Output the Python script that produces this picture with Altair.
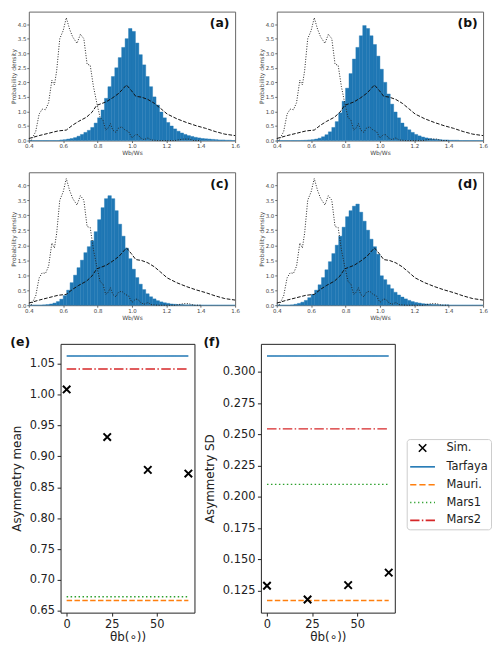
import altair as alt
import pandas as pd

# ---------------- data ----------------
bin_start = 0.40
bin_width = 0.02

hist_a = [0, 0, 0, 0, 0, 0, 0, 0, 0,
          0.02, 0.03, 0.05, 0.07, 0.10, 0.15, 0.21, 0.28, 0.35, 0.45,
          0.60, 0.78, 1.05, 1.45, 1.85, 2.20, 2.50, 2.85, 3.20, 3.50,
          3.85, 3.75, 3.35, 2.95, 2.60, 2.20, 1.85, 1.50, 1.22, 0.98,
          0.78, 0.62, 0.50, 0.40, 0.32, 0.26, 0.21, 0.17, 0.14, 0.11,
          0.09, 0.07, 0.06, 0.05, 0.04, 0.03, 0.02, 0.02, 0.01, 0.01, 0.0]
hist_b = [0, 0, 0, 0, 0, 0, 0,
          0.005, 0.01, 0.02, 0.03, 0.05, 0.08, 0.13, 0.20, 0.30, 0.45,
          0.65, 0.95, 1.35, 1.80, 2.30, 2.80, 3.20, 3.60, 3.95, 3.85,
          3.60, 3.30, 2.90, 2.45, 2.00, 1.60, 1.25, 0.98, 0.78, 0.60,
          0.47, 0.37, 0.28, 0.21, 0.16, 0.12, 0.09, 0.07, 0.05, 0.04,
          0.03, 0.02, 0.02, 0.01, 0.01, 0.01,
          0, 0, 0, 0, 0, 0, 0]
hist_c = [0, 0, 0, 0,
          0.01, 0.02, 0.04, 0.07, 0.12, 0.20, 0.32, 0.50, 0.75, 1.00,
          1.25, 1.50, 1.75, 1.95, 2.15, 2.45, 2.85, 3.25, 3.55, 3.65,
          3.55, 3.15, 2.70, 2.30, 1.90, 1.55, 1.20, 0.92, 0.70, 0.52,
          0.38, 0.28, 0.21, 0.15, 0.11, 0.08, 0.06, 0.04, 0.03, 0.02,
          0.02, 0.01, 0.01, 0.01,
          0, 0, 0, 0, 0, 0, 0, 0, 0, 0, 0, 0]
hist_d = [0, 0, 0, 0,
          0.01, 0.03, 0.06, 0.10, 0.16, 0.25, 0.36, 0.50, 0.68, 0.92,
          1.18, 1.45, 1.72, 2.00, 2.30, 2.60, 2.95, 3.15, 3.30, 3.37,
          3.10, 2.80, 2.50, 2.20, 1.95, 1.70, 0.98, 0.85, 0.68, 0.55,
          0.43, 0.34, 0.27, 0.21, 0.16, 0.12, 0.09, 0.07, 0.05, 0.04,
          0.03, 0.02, 0.02, 0.01, 0.01, 0.01,
          0, 0, 0, 0, 0, 0, 0, 0, 0, 0]

dot_x = [0.413, 0.44, 0.46, 0.478, 0.497, 0.515, 0.534, 0.549, 0.562, 0.58,
         0.60, 0.618, 0.637, 0.655, 0.68, 0.70, 0.72, 0.739, 0.757, 0.776,
         0.795, 0.814, 0.832, 0.847, 0.86, 0.875, 0.888, 0.907, 0.92, 0.94,
         0.96, 0.98, 1.0, 1.02, 1.034, 1.05, 1.07, 1.093, 1.11, 1.15,
         1.2, 1.25, 1.3, 1.33, 1.36, 1.4]
dot_y = [0.0, 0.31, 0.91, 1.08, 1.06, 1.30, 2.07, 1.91, 2.40, 3.50,
         3.78, 4.22, 3.83, 3.56, 3.34, 3.65, 3.50, 2.62, 2.59, 1.85,
         1.30, 0.80, 0.69, 0.36, 0.42, 0.58, 0.36, 0.28, 0.42, 0.47,
         0.36, 0.31, 0.09, 0.20, 0.20, 0.09, 0.03, 0.09, 0.02, 0.0,
         0.0, 0.0, 0.05, 0.05, 0.0, 0.0]

dash_x = [0.40, 0.46, 0.515, 0.57, 0.618, 0.655, 0.69, 0.735, 0.767, 0.795,
          0.823, 0.85, 0.888, 0.925, 0.968, 0.996, 1.022, 1.056, 1.093, 1.13,
          1.167, 1.205, 1.26, 1.317, 1.373, 1.428, 1.484, 1.54, 1.60]
dash_y = [0.07, 0.17, 0.25, 0.33, 0.36, 0.53, 0.66, 0.80, 0.97, 1.21,
          1.27, 1.33, 1.47, 1.63, 1.91, 1.72, 1.52, 1.49, 1.41, 1.28,
          1.10, 0.91, 0.75, 0.62, 0.51, 0.42, 0.31, 0.22, 0.17]

panel_labels = ["(a)", "(b)", "(c)", "(d)"]
label_pos = (1.51, 4.03)

theta = [0, 22.5, 45, 67.5]
sim_mean = [1.008, 0.931, 0.878, 0.872]
sim_sd = [0.129, 0.118, 0.1295, 0.1395]

series_names = ["Sim.", "Tarfaya", "Mauri.", "Mars1", "Mars2"]
ref_names = ["Tarfaya", "Mauri.", "Mars1", "Mars2"]
ref_mean = [1.062, 0.667, 0.673, 1.041]
ref_sd = [0.3127, 0.1173, 0.2101, 0.2545]

# ---------------- styles ----------------
FONT = "DejaVu Sans"
series_colors = ["#000000", "#1f77b4", "#ff7f0e", "#2ca02c", "#d62728"]
ref_colors = ["#1f77b4", "#ff7f0e", "#2ca02c", "#d62728"]
ref_dashes = [[1, 0], [5.5, 2.4], [1.5, 2.5], [9.6, 2.4, 1.5, 2.4]]
# symbol paths (drawn at size 100 -> 1 unit = 5 px)
cross = "M-0.75,-0.75L0.75,0.75M-0.75,0.75L0.75,-0.75"
legend_shapes = [
    cross,
    "M-2.5,0L2.5,0",
    "M-2.5,0L-1.25,0M-0.65,0L0.6,0M1.2,0L2.45,0",
    "M-2.5,0L-2.25,0M-1.7,0L-1.45,0M-0.9,0L-0.65,0M-0.1,0L0.15,0M0.7,0L0.95,0M1.5,0L1.75,0M2.3,0L2.5,0",
    "M-2.5,0L-0.62,0M-0.15,0L0.15,0M0.62,0L2.5,0",
]

HW = 208


def hist_panel(vals, label, h):
    edges = [round(bin_start + bin_width * i, 4) for i in range(len(vals))]
    df = pd.DataFrame({"x0": edges, "x1": [round(e + bin_width, 4) for e in edges], "v": vals})
    xs = alt.Scale(domain=[0.4, 1.6], nice=False, zero=False)
    ys = alt.Scale(domain=[0, 4.43], nice=False)
    ax_common = dict(labelFontSize=5.5, titleFontSize=6, tickSize=2, labelPadding=1,
                     titlePadding=1, grid=False, domain=False, labelColor="#444",
                     titleColor="#444", tickColor="#666", labelFont=FONT, titleFont=FONT,
                     titleFontWeight="normal", labelFlush=False, labelOverlap=False)
    xax = alt.Axis(values=[0.4, 0.6, 0.8, 1.0, 1.2, 1.4, 1.6], format=".1f", **ax_common)
    yax = alt.Axis(values=[0, 0.5, 1.0, 1.5, 2.0, 2.5, 3.0, 3.5, 4.0], format=".1f", **ax_common)
    X = lambda fld: alt.X(fld, scale=xs, axis=xax, title="Wb/Ws")
    Y = lambda fld: alt.Y(fld, scale=ys, axis=yax, title="Probability density")
    bars = alt.Chart(df).mark_rect(color="#1f77b4", stroke="#1f77b4", strokeWidth=0.4).encode(
        x=X("x0:Q"), x2="x1:Q", y=Y("v:Q"), y2=alt.datum(0))
    dotted = alt.Chart(pd.DataFrame({"x": dot_x, "y": dot_y})).mark_line(
        color="#222", strokeDash=[1, 1.6], strokeWidth=1).encode(x=X("x:Q"), y=Y("y:Q"))
    dashed = alt.Chart(pd.DataFrame({"x": dash_x, "y": dash_y})).mark_line(
        color="#111", strokeDash=[3.7, 1.6], strokeWidth=1).encode(x=X("x:Q"), y=Y("y:Q"))
    txt = alt.Chart(pd.DataFrame({"x": [label_pos[0]], "y": [label_pos[1]], "t": [label]})).mark_text(
        fontWeight="bold", fontSize=12.5, font=FONT, color="#111", align="center", baseline="middle").encode(
        x=X("x:Q"), y=Y("y:Q"), text="t:N")
    return alt.layer(bars, dotted, dashed, txt).properties(
        width=HW, height=h, view=alt.ViewBackground(stroke="#666", strokeWidth=1))


SW, SH = 135, 271


def summary_panel(sim_vals, ref_vals, ydom, yvals, yfmt, ytitle, label, with_legend):
    xs = alt.Scale(domain=[-3.375, 70.875], nice=False, zero=False)
    ys = alt.Scale(domain=ydom, nice=False, zero=False)
    ax_common = dict(labelFontSize=11.5, titleFontSize=12, tickSize=3.5, labelPadding=2.5,
                     grid=False, domain=False, labelColor="#222", titleColor="#222",
                     tickColor="#222", labelFont=FONT, titleFont=FONT,
                     titleFontWeight="normal", labelFlush=False, labelOverlap=False)
    xax = alt.Axis(values=[0, 25, 50], format="d", titlePadding=2, **ax_common)
    yax = alt.Axis(values=yvals, format=yfmt, titlePadding=6, **ax_common)
    xt = "θb(∘))"
    X = lambda fld: alt.X(fld, scale=xs, axis=xax, title=xt)
    Y = lambda fld: alt.Y(fld, scale=ys, axis=yax, title=ytitle)
    layers = []
    ref_df = pd.DataFrame({"series": ref_names, "v": ref_vals,
                           "t0": [theta[0]] * 4, "t1": [theta[-1]] * 4})
    for name, col, dash in zip(ref_names, ref_colors, ref_dashes):
        layers.append(
            alt.Chart(ref_df[ref_df["series"] == name]).mark_rule(
                color=col, strokeDash=dash, strokeWidth=1.5).encode(
                x=X("t0:Q"), x2="t1:Q", y=Y("v:Q")))
    sim_df = pd.DataFrame({"theta": theta, "v": sim_vals, "series": ["Sim."] * 4})
    if with_legend:
        leg = alt.Legend(title=None, orient="none", legendX=147, legendY=96, offset=0,
                         strokeColor="#cccccc", cornerRadius=3, padding=3,
                         fillColor="white", labelFontSize=11.5, labelFont=FONT,
                         labelColor="#222", symbolSize=100, symbolStrokeWidth=1.6,
                         symbolOffset=7, rowPadding=6, labelOffset=18)
        shape = alt.Shape("series:N", scale=alt.Scale(domain=series_names, range=legend_shapes), legend=leg)
        color = alt.Color("series:N", scale=alt.Scale(domain=series_names, range=series_colors), legend=leg)
    else:
        shape = alt.value(cross)
        color = alt.value("black")
    pts = alt.Chart(sim_df).mark_point(size=100, strokeWidth=2, filled=False, opacity=1).encode(
        x=X("theta:Q"), y=Y("v:Q"), shape=shape, color=color)
    layers.append(pts)
    return alt.layer(*layers).properties(
        width=SW, height=SH,
        title=alt.TitleParams(label, anchor="start", fontSize=12.5, fontWeight="bold",
                              font=FONT, color="#111", offset=-5),
        view=alt.ViewBackground(stroke="#222", strokeWidth=1))


def spacer():
    return alt.Chart(pd.DataFrame({"s": []})).mark_point(opacity=0).properties(
        width=1, height=1, view=alt.ViewBackground(stroke=None))


a = hist_panel(hist_a, panel_labels[0], 130)
b = hist_panel(hist_b, panel_labels[1], 130)
c = hist_panel(hist_c, panel_labels[2], 134)
d = hist_panel(hist_d, panel_labels[3], 134)

e = summary_panel(sim_mean, ref_mean, [0.6473, 1.0816],
                  [0.65, 0.70, 0.75, 0.80, 0.85, 0.90, 0.95, 1.00, 1.05], ".2f",
                  "Asymmetry mean", "(e)", False)
f = summary_panel(sim_sd, ref_sd, [0.1075, 0.3225],
                  [0.125, 0.150, 0.175, 0.200, 0.225, 0.250, 0.275, 0.300], ".3f",
                  "Asymmetry SD", "(f)", True)

indep = alt.Resolve(
    scale=alt.ScaleResolveMap(color="independent", shape="independent"),
    legend=alt.LegendResolveMap(color="independent", shape="independent"),
)

row1 = alt.hconcat(spacer(), alt.hconcat(a, b, spacing=17), spacing=0)
row2 = alt.hconcat(spacer(), alt.hconcat(c, d, spacing=17), spacing=0)
row3 = alt.hconcat(spacer(), alt.hconcat(e, f, spacing=5, resolve=indep), spacing=0, resolve=indep)

top = alt.vconcat(row1, row2, spacing=15)

chart = alt.vconcat(
    top, row3, spacing=15, resolve=indep,
).properties(padding=0).configure(font=FONT).configure_axis(labelOverlap=False)

chart.save("out.html", embed_options={"renderer": "svg", "actions": False})
